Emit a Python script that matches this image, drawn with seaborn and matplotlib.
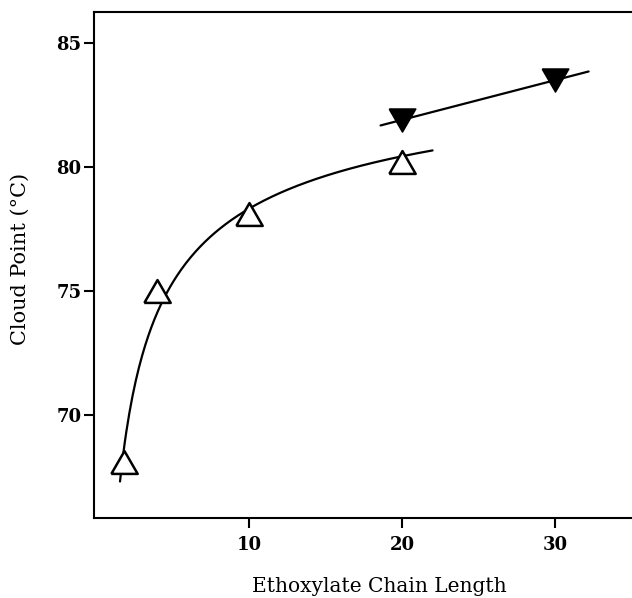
import matplotlib
matplotlib.use("Agg")
import matplotlib.pyplot as plt
import seaborn as sns
import numpy as np
import pandas as pd

# Data
open_chain = [1.8, 4, 10, 20]
open_cloud = [68.1, 75.0, 78.1, 80.2]
filled_chain = [20, 30]
filled_cloud = [81.9, 83.5]

x_ticks = [10, 20, 30]
y_ticks = [70, 75, 80, 85]

sns.set_style("ticks")
plt.rcParams["font.family"] = ["DejaVu Serif"]

fig = plt.figure(figsize=(6.32, 5.98), dpi=100)
ax = fig.add_axes([94 / 632, 80 / 598, 546 / 632, 506 / 598])

# smooth fit through the open points: y = a + b / sqrt(x)
b, a = np.polyfit(np.array(open_chain) ** -0.5, open_cloud, 1)
xc = np.linspace(1.57, 22, 200)
curve = pd.DataFrame({"x": xc, "y": a + b * xc ** -0.5})
sns.lineplot(data=curve, x="x", y="y", color="black", lw=1.6, ax=ax, zorder=2)

# straight line through the filled points
m, c = np.polyfit(filled_chain, filled_cloud, 1)
xl = np.array([18.6, 32.2])
sns.lineplot(x=xl, y=m * xl + c, color="black", lw=1.6, ax=ax, zorder=2)

up = [(-1, -0.866), (1, -0.866), (0, 0.866), (-1, -0.866)]
down = [(-1, 0.866), (1, 0.866), (0, -0.866), (-1, 0.866)]

sns.scatterplot(x=open_chain, y=open_cloud, marker=up, s=19 ** 2,
                facecolor="white", edgecolor="black", linewidth=1.8,
                ax=ax, zorder=3)
sns.scatterplot(x=filled_chain, y=filled_cloud, marker=down, s=19 ** 2,
                color="black", edgecolor="black", linewidth=1.2,
                ax=ax, zorder=3)

ax.set_xlim(-0.13, 35.56)
ax.set_ylim(65.85, 86.25)
ax.set_xticks(x_ticks)
ax.set_yticks(y_ticks)

for s in ax.spines.values():
    s.set_linewidth(1.5)
    s.set_color("black")

ax.tick_params(axis="both", direction="out", width=1.5, length=7,
               labelsize=13, colors="black")
ax.tick_params(axis="x", pad=6)
ax.tick_params(axis="y", pad=2)
for lab in ax.get_xticklabels() + ax.get_yticklabels():
    lab.set_fontweight("bold")

ax.set_xlabel("Ethoxylate Chain Length", fontsize=14.5, color="black")
ax.set_ylabel("Cloud Point (°C)", fontsize=15, color="black")
# label centres in axes coordinates
ax.xaxis.set_label_coords((379 - 94) / 546, -(587 - 518) / 506)
ax.yaxis.set_label_coords(-(94 - 20) / 546, (518 - 259) / 506)
ax.xaxis.label.set_va("center")
ax.yaxis.label.set_va("center")

fig.savefig("out.png", dpi=100)
